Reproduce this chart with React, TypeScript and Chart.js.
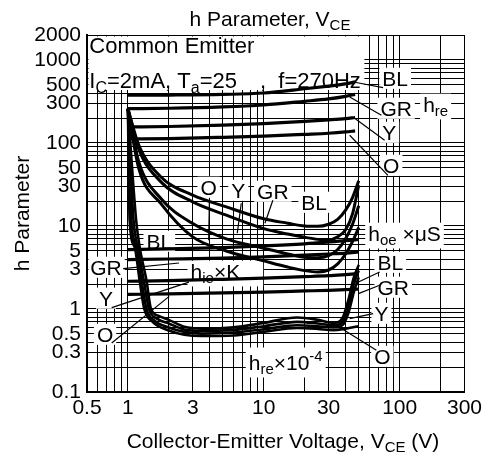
import React, { useEffect, useRef } from 'react';
import { Chart, registerables } from 'chart.js';
Chart.register(...registerables);

// ---------- axes ----------
const X_GRID = [0.5, 0.6, 0.7, 0.8, 0.9, 1, 2, 3, 4, 5, 6, 7, 8, 9, 10, 20, 30, 40, 50, 60, 70, 80, 90, 100, 200, 300];
const X_TICK_LABELS = [0.5, 1, 3, 10, 30, 100, 300];
const Y_GRID = [0.1, 0.2, 0.3, 0.4, 0.5, 0.6, 0.7, 0.8, 0.9, 1, 2, 3, 4, 5, 6, 7, 8, 9, 10, 20, 30, 40, 50, 60, 70, 80, 90, 100, 200, 300, 400, 500, 600, 700, 800, 900, 1000, 2000];
const Y_TICK_LABELS = [0.1, 0.3, 0.5, 1, 3, 5, 10, 30, 50, 100, 300, 500, 1000, 2000];

// ---------- h_fe (labelled h_re in the figure), top group ----------
const X_HFE = [1, 2, 5, 10, 20, 30, 40, 47];
const HFE_BL = [376, 378, 385, 400, 450, 485, 515, 545];
const HFE_GR = [259, 262, 272, 287, 318, 340, 365, 385];
const HFE_Y = [156, 158, 164, 171, 182, 190, 197, 203];
const HFE_O = [112, 113, 117, 121, 127, 131, 136, 140];

// ---------- h_oe x uS ----------
const X_HOE = [1, 1.2, 1.75, 3, 5.3, 10, 15, 20, 25, 30, 35, 40, 45, 50];
const HOE_BL = [259, 95, 39, 23.5, 17, 12.2, 10.8, 10.0, 9.9, 10.5, 12, 15.5, 22, 35];
const HOE_GR = [259, 85, 34, 19.5, 13.5, 9.3, 8, 7.3, 6.9, 6.8, 7.4, 9.0, 14, 31];
const HOE_Y = [259, 60, 21.4, 10.7, 7.0, 5.4, 4.6, 4.2, 4.15, 4.4, 5.2, 7, 10.5, 17.5];
const HOE_O = [259, 50, 18.6, 7.4, 5.0, 3.8, 3.2, 2.9, 2.8, 2.95, 3.5, 4.6, 6.5, 9.6];

// ---------- h_ie x K ----------
const X_HIE = [1, 2, 5, 10, 20, 30, 40, 50];
const HIE_BL = [5.2, 5.3, 5.5, 5.75, 6.1, 6.4, 6.65, 6.9];
const HIE_GR = [3.94, 4.0, 4.1, 4.25, 4.45, 4.6, 4.72, 4.86];
const HIE_Y = [2.16, 2.2, 2.28, 2.35, 2.45, 2.52, 2.6, 2.67];
const HIE_O = [1.5, 1.52, 1.56, 1.6, 1.65, 1.68, 1.71, 1.74];

// ---------- h_re x 10^-4 ----------
const HRE_BL_X = [1, 1.15, 1.22, 1.37, 1.48, 1.7, 2, 2.6, 3.5, 6, 10, 17.6, 25, 32.5, 38, 42, 46, 50];
const HRE_BL = [259, 11.7, 5.6, 2.2, 1.0, 0.82, 0.74, 0.61, 0.58, 0.6, 0.68, 0.79, 0.74, 0.68, 0.78, 1.3, 2.4, 3.4];
const HRE_GR_X = [1, 1.1, 1.18, 1.31, 1.43, 1.65, 2, 2.6, 3.5, 6, 10, 17.6, 25, 32.5, 38, 42, 46, 50];
const HRE_GR = [259, 11.7, 5.6, 2.2, 1.0, 0.76, 0.67, 0.565, 0.543, 0.56, 0.62, 0.7, 0.67, 0.636, 0.7, 1.1, 2.0, 2.9];
const HRE_Y_X = [1, 1.06, 1.15, 1.26, 1.37, 1.58, 2, 2.6, 3.5, 6, 10, 17.6, 25, 32.5, 38, 42, 46, 50];
const HRE_Y = [259, 11.7, 5.6, 2.2, 1.0, 0.72, 0.6, 0.53, 0.505, 0.52, 0.57, 0.636, 0.62, 0.6, 0.64, 0.9, 1.6, 2.4];
const HRE_O_X = [1, 1.03, 1.12, 1.22, 1.32, 1.52, 2, 2.6, 3.5, 6, 10, 17.6, 25, 32.5, 40, 50];
const HRE_O = [259, 11.7, 5.6, 2.2, 1.0, 0.7, 0.55, 0.49, 0.473, 0.48, 0.53, 0.59, 0.575, 0.555, 0.58, 0.62];

// ---------- text ----------
const TITLE = 'h Parameter, V_{CE}';
const X_TITLE = 'Collector-Emitter Voltage, V_{CE} (V)';
const Y_TITLE = 'h Parameter';
const NOTE_1 = 'Common Emitter';
const NOTE_2A = 'I_{C}=2mA, T_{a}=25';
const NOTE_2B = ',  f=270Hz';

// annotation labels (data coordinates)
const LABELS: { s: string; x: number; y: number; align?: 'left' | 'center'; padR?: number; box?: boolean; size?: number }[] = [
  { s: 'BL', x: 92.7, y: 602 },
  { s: 'GR', x: 94.2, y: 262 },
  { s: 'h_{re}', x: 184, y: 293 },
  { s: 'Y', x: 83.8, y: 134.6 },
  { s: 'O', x: 86.7, y: 53.8 },
  { s: 'O', x: 3.93, y: 29.3 },
  { s: 'Y', x: 6.49, y: 26.9 },
  { s: 'GR', x: 11.66, y: 26.2 },
  { s: 'BL', x: 23.5, y: 19.3 },
  { s: 'h_{oe} ×μS', x: 58.7, y: 8.17, align: 'left' },
  { s: 'BL', x: 1.703, y: 6.54 },
  { s: 'GR', x: 0.69, y: 3.18 },
  { s: 'h_{ie}×K', x: 2.89, y: 2.85, align: 'left', padR: 20 },
  { s: 'Y', x: 0.69, y: 1.35 },
  { s: 'O', x: 0.679, y: 0.496 },
  { s: 'BL', x: 85.3, y: 3.65 },
  { s: 'GR', x: 89.6, y: 1.83 },
  { s: 'Y', x: 73.4, y: 0.888 },
  { s: 'O', x: 74.6, y: 0.269 },
  { s: 'h_{re}×10^{-4}', x: 14.5, y: 0.228 },
  { s: NOTE_1, x: 0.52, y: 1500, align: 'left', box: false, size: 22 },
  { s: NOTE_2A, x: 0.52, y: 571, align: 'left', box: false, size: 22 },
  { s: NOTE_2B, x: 9.37, y: 571, align: 'left', box: false, size: 22 },
];
// white area behind the condition text (data coordinates)
const BOXES = [{ x0: 0.5, x1: 55, y0: 435, y1: 2000 }];
// leader lines (data coordinates)
const LEADERS = [
  [45.7, 543, 75.5, 465], [42.9, 358, 73.4, 216], [46.9, 197, 77.5, 108], [42.9, 124, 82, 40.8],
  [3.98, 20.4, 3.93, 6.73], [6.83, 18.8, 6.38, 8.17], [11.66, 20.4, 10.2, 10.8],
  [0.922, 3.07, 2.38, 3.58], [0.76, 1.04, 2.813, 2.11], [0.76, 0.389, 2.013, 1.42],
  [49.7, 2.11, 71.3, 2.79], [49.7, 1.53, 71.3, 1.93], [42.9, 0.766, 63.8, 0.88], [37.6, 0.58, 67.4, 0.318],
];

const FONT = '"Liberation Sans", Arial, sans-serif';
const FS = 21;

type Seg = { t: string; k: number };
function parse(s: string): Seg[] {
  const out: Seg[] = [];
  let buf = '';
  let i = 0;
  while (i < s.length) {
    const c = s[i];
    if ((c === '_' || c === '^') && s[i + 1] === '{') {
      if (buf) { out.push({ t: buf, k: 0 }); buf = ''; }
      const end = s.indexOf('}', i);
      out.push({ t: s.slice(i + 2, end), k: c === '_' ? 1 : 2 });
      i = end + 1;
    } else { buf += c; i++; }
  }
  if (buf) out.push({ t: buf, k: 0 });
  return out;
}
function segFont(k: number, size: number) {
  return `${k ? Math.round(size * 0.72) : size}px ${FONT}`;
}
function measureRich(ctx: CanvasRenderingContext2D, s: string, size: number) {
  let w = 0;
  for (const sg of parse(s)) { ctx.font = segFont(sg.k, size); w += ctx.measureText(sg.t).width; }
  return w;
}
function drawRich(ctx: CanvasRenderingContext2D, s: string, x: number, yc: number, size: number, align: string) {
  const w = measureRich(ctx, s, size);
  let cx = align === 'center' ? x - w / 2 : align === 'right' ? x - w : x;
  const base = yc + size * 0.36;
  ctx.textAlign = 'left';
  ctx.textBaseline = 'alphabetic';
  ctx.fillStyle = '#000';
  for (const sg of parse(s)) {
    ctx.font = segFont(sg.k, size);
    const dy = sg.k === 1 ? size * 0.22 : sg.k === 2 ? -size * 0.42 : 0;
    ctx.fillText(sg.t, cx, base + dy);
    cx += ctx.measureText(sg.t).width;
  }
}

const annot = {
  id: 'annot',
  beforeDatasetsDraw(chart: any) {
    const { ctx, chartArea: ca, scales } = chart;
    const xs = scales.x, ys = scales.y;
    ctx.save();
    ctx.beginPath();
    ctx.rect(ca.left + 1.5, ca.top + 1.5, ca.right - ca.left - 3, ca.bottom - ca.top - 3);
    ctx.clip();
    ctx.fillStyle = '#fff';
    for (const b of BOXES) {
      const x0 = xs.getPixelForValue(b.x0), x1 = xs.getPixelForValue(b.x1);
      const y0 = ys.getPixelForValue(b.y1), y1 = ys.getPixelForValue(b.y0);
      ctx.fillRect(x0 - 2, y0 - 2, x1 - x0 + 2, y1 - y0 + 2);
    }
    for (const l of LABELS) {
      if (l.box === false) continue;
      const size = l.size || FS;
      const w = measureRich(ctx, l.s, size);
      const px = xs.getPixelForValue(l.x), py = ys.getPixelForValue(l.y);
      const left = (l.align === 'left' ? px : px - w / 2) - 3;
      const hasSub = l.s.includes('_{');
      const top = py - size * 0.36 - (l.s.includes('^{') ? size * 0.2 : 0) - 3;
      const bot = py + size * 0.36 + (hasSub ? size * 0.22 : 0) + 3;
      ctx.fillRect(left, top, w + 6 + (l.padR || 0), bot - top);
    }
    ctx.restore();
  },
  afterDatasetsDraw(chart: any) {
    const { ctx, scales } = chart;
    const xs = scales.x, ys = scales.y;
    ctx.save();
    ctx.strokeStyle = '#000';
    ctx.lineWidth = 1.2;
    for (const [a, b, c, d] of LEADERS) {
      ctx.beginPath();
      ctx.moveTo(xs.getPixelForValue(a), ys.getPixelForValue(b));
      ctx.lineTo(xs.getPixelForValue(c), ys.getPixelForValue(d));
      ctx.stroke();
    }
    for (const l of LABELS) {
      drawRich(ctx, l.s, xs.getPixelForValue(l.x), ys.getPixelForValue(l.y), l.size || FS, l.align || 'center');
    }
    ctx.restore();
  },
  afterDraw(chart: any) {
    const { ctx, chartArea: ca } = chart;
    ctx.save();
    drawRich(ctx, TITLE, 270, 18, FS, 'center');
    drawRich(ctx, X_TITLE, 283, 440, FS, 'center');
    ctx.translate(21, (ca.top + ca.bottom) / 2);
    ctx.rotate(-Math.PI / 2);
    drawRich(ctx, Y_TITLE, 0, 0, FS, 'center');
    ctx.restore();
  },
};

function series(xs: number[], ys: number[], width: number) {
  return {
    data: xs.map((x, i) => ({ x, y: ys[i] })),
    borderColor: '#000',
    borderWidth: width,
    pointRadius: 0,
    fill: false,
    cubicInterpolationMode: 'monotone' as const,
  };
}

export default function App() {
  const ref = useRef<HTMLCanvasElement>(null);
  useEffect(() => {
    const chart = new Chart(ref.current!, {
      type: 'line',
      data: {
        datasets: [
          series(X_HFE, HFE_BL, 3.2), series(X_HFE, HFE_GR, 3.2), series(X_HFE, HFE_Y, 3.2), series(X_HFE, HFE_O, 3.2),
          series(X_HOE, HOE_BL, 3), series(X_HOE, HOE_GR, 3), series(X_HOE, HOE_Y, 3), series(X_HOE, HOE_O, 3),
          series(X_HIE, HIE_BL, 3.2), series(X_HIE, HIE_GR, 3.2), series(X_HIE, HIE_Y, 3.2), series(X_HIE, HIE_O, 3.2),
          series(HRE_BL_X, HRE_BL, 2.6), series(HRE_GR_X, HRE_GR, 2.6), series(HRE_Y_X, HRE_Y, 2.6), series(HRE_O_X, HRE_O, 2.6),
        ] as any,
      },
      options: {
        animation: false,
        responsive: false,
        devicePixelRatio: 1,
        events: [],
        layout: { padding: { top: 35, right: 17, bottom: 0, left: 0 } },
        plugins: { legend: { display: false }, tooltip: { enabled: false }, title: { display: false } },
        scales: {
          x: {
            type: 'logarithmic',
            min: 0.5,
            max: 300,
            afterBuildTicks: (s: any) => { s.ticks = X_GRID.map((v) => ({ value: v })); },
            afterFit: (s: any) => { s.height = 61; },
            grid: { color: '#000', lineWidth: 1, drawTicks: false },
            border: { display: true, color: '#000', width: 2 },
            ticks: {
              autoSkip: false, maxRotation: 0, minRotation: 0, padding: 4, color: '#000',
              font: { family: FONT, size: FS },
              callback: (v: any) => (X_TICK_LABELS.includes(Number(v)) ? String(v) : ''),
            },
          },
          y: {
            type: 'logarithmic',
            min: 0.1,
            max: 2000,
            afterBuildTicks: (s: any) => { s.ticks = Y_GRID.map((v) => ({ value: v })); },
            afterFit: (s: any) => { s.width = 87; },
            grid: { color: '#000', lineWidth: 1, drawTicks: false },
            border: { display: true, color: '#000', width: 2 },
            ticks: {
              autoSkip: false, padding: 6, color: '#000',
              font: { family: FONT, size: FS },
              callback: (v: any) => (Y_TICK_LABELS.includes(Number(v)) ? String(v) : ''),
            },
          },
        },
      } as any,
      plugins: [annot],
    });
    return () => chart.destroy();
  }, []);
  return (
    <div style={{ position: 'fixed', left: 0, top: 0, width: 486, height: 453, background: '#fff' }}>
      <canvas ref={ref} width={486} height={453} style={{ display: 'block', width: 486, height: 453 }} />
    </div>
  );
}
